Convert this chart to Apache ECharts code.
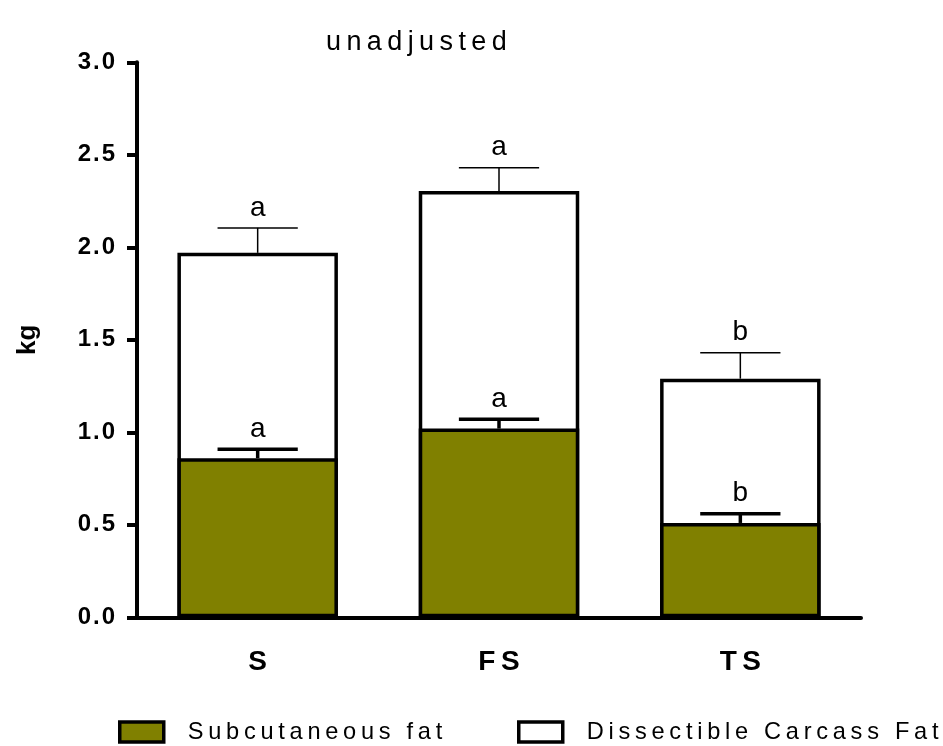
<!DOCTYPE html>
<html>
<head>
<meta charset="utf-8">
<script src="https://cdn.jsdelivr.net/npm/echarts@6/dist/echarts.min.js"></script>
<style>
  html, body { margin: 0; padding: 0; background: #fff; }
  #chart { width: 943px; height: 746px; }
</style>
</head>
<body>
<div id="chart"></div>
<script>
// Carcass fat by group (kg), mean with SEM
const categories = ['S', 'FS', 'TS'];
const subcutaneousFat = [0.86, 1.02, 0.51];
const subcutaneousSem = [0.048, 0.05, 0.05];
const subcutaneousLetters = ['a', 'a', 'b'];
const dissectibleFat = [1.97, 2.305, 1.29];
const dissectibleSem = [0.135, 0.125, 0.14];
const dissectibleLetters = ['a', 'a', 'b'];
const yMin = 0;
const yMax = 3;
const yStep = 0.5;

const FONT = '"Liberation Sans", Arial, sans-serif';
const OLIVE = '#808000';
const BAR_WIDTH = 0.665;

// widen text with tracking between glyphs
const spaced = (s, gap) => String(s).split('').join(gap || '\u2009');

function errorBars(values, sems, letters, lineWidth) {
  return {
    type: 'custom',
    coordinateSystem: 'cartesian2d',
    z: 5,
    silent: true,
    data: values.map((v, i) => [i, v, sems[i], letters[i]]),
    renderItem: function (params, api) {
      const i = api.value(0);
      const v = api.value(1);
      const e = api.value(2);
      const base = api.coord([i, v]);
      const top = api.coord([i, v + e]);
      const half = api.size([1, 0])[0] * BAR_WIDTH * 0.25;
      const style = { stroke: '#000', lineWidth: lineWidth };
      return {
        type: 'group',
        children: [
          { type: 'line', shape: { x1: base[0], y1: base[1], x2: top[0], y2: top[1] }, style: style },
          { type: 'line', shape: { x1: top[0] - half, y1: top[1], x2: top[0] + half, y2: top[1] }, style: style },
          {
            type: 'text',
            x: top[0],
            y: top[1] - 6,
            style: {
              text: letters[params.dataIndex],
              fill: '#000',
              font: 'normal 28px ' + FONT,
              align: 'center',
              verticalAlign: 'bottom'
            }
          }
        ]
      };
    }
  };
}

const chart = echarts.init(document.getElementById('chart'), null, { renderer: 'canvas' });

const legendText = {
  fontFamily: FONT,
  fontSize: 23.6,
  color: '#000',
  padding: [0, 0, 0, 19]
};

function legendFor(name, left) {
  return {
    data: [{ name: name, icon: 'rect' }],
    left: left,
    top: 720,
    padding: 0,
    itemWidth: 44,
    itemHeight: 20,
    itemStyle: { borderWidth: 3.5, borderColor: '#000' },
    formatter: n => spaced(n),
    textStyle: legendText,
    selectedMode: false
  };
}

chart.setOption({
  backgroundColor: '#fff',
  animation: false,
  title: {
    text: spaced('unadjusted'),
    left: 326,
    top: 29,
    padding: 0,
    textStyle: { fontFamily: FONT, fontSize: 27, fontWeight: 'normal', color: '#000' }
  },
  legend: [
    legendFor('Subcutaneous fat', 118),
    legendFor('Dissectible Carcass Fat', 517)
  ],
  grid: { left: 137, right: 82, top: 62.3, bottom: 128.7 },
  xAxis: {
    type: 'category',
    data: categories,
    axisLine: { lineStyle: { color: '#000', width: 4 } },
    axisTick: { alignWithLabel: true, length: 11, lineStyle: { color: '#000', width: 4 } },
    axisLabel: {
      formatter: v => spaced(v),
      fontFamily: FONT,
      fontSize: 28,
      fontWeight: 'bold',
      color: '#000',
      margin: 31
    }
  },
  yAxis: {
    type: 'value',
    min: yMin,
    max: yMax,
    interval: yStep,
    name: 'kg',
    nameLocation: 'middle',
    nameRotate: 90,
    nameGap: 96,
    nameTextStyle: { fontFamily: FONT, fontSize: 26, fontWeight: 'bold', color: '#000' },
    axisLine: { show: true, lineStyle: { color: '#000', width: 4 } },
    axisTick: { show: true, length: 10, lineStyle: { color: '#000', width: 4 } },
    splitLine: { show: false },
    axisLabel: {
      formatter: v => spaced(v.toFixed(1), '\u200A'),
      fontFamily: FONT,
      fontSize: 24,
      fontWeight: 'bold',
      color: '#000',
      margin: 22
    }
  },
  series: [
    {
      name: 'Dissectible Carcass Fat',
      type: 'bar',
      data: dissectibleFat,
      barWidth: (BAR_WIDTH * 100) + '%',
      itemStyle: { color: '#fff', borderColor: '#000', borderWidth: 3.5 },
      z: 2
    },
    {
      name: 'Subcutaneous fat',
      type: 'bar',
      data: subcutaneousFat,
      barWidth: (BAR_WIDTH * 100) + '%',
      barGap: '-100%',
      itemStyle: { color: OLIVE, borderColor: '#000', borderWidth: 3.5 },
      z: 3
    },
    errorBars(dissectibleFat, dissectibleSem, dissectibleLetters, 1.5),
    errorBars(subcutaneousFat, subcutaneousSem, subcutaneousLetters, 3.5)
  ]
});
</script>
</body>
</html>
